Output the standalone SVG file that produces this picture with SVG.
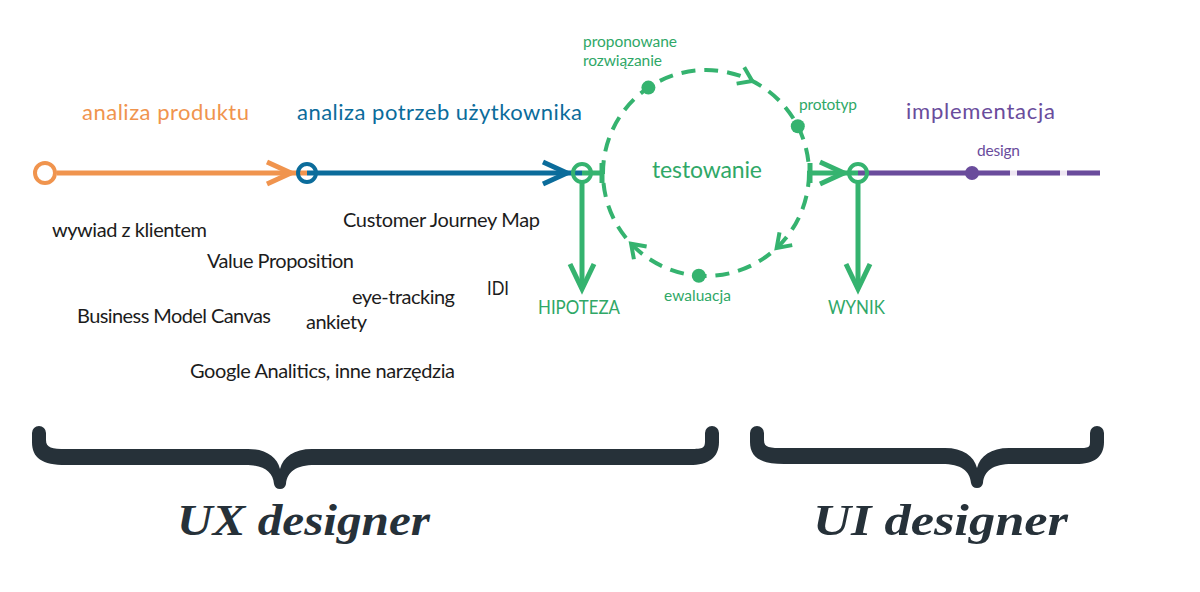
<svg xmlns="http://www.w3.org/2000/svg" width="1200" height="592" viewBox="0 0 1200 592">
<defs>
<style>
.t{font-family:Lato,"Open Sans","Liberation Sans",sans-serif}
.blk{font-size:20px;fill:#1c1c1c}
.head{font-size:22px}
.sm{font-size:15.5px}
.big{font-size:20px}
.or{fill:#F0944E}.bl{fill:#0B6C9B}.gr{fill:#2FA867}.pu{fill:#6A4C9C}
.hand{font-family:"Liberation Serif",serif;font-style:italic;font-weight:bold;font-size:44px;fill:#263139}
.ln{fill:none;stroke-width:5}
.arw{fill:none;stroke-width:5;stroke-linejoin:miter;stroke-linecap:butt}
.node{fill:none;stroke-width:4}
.brace{fill:#263139}
</style>
<path id="chev" d="M-10 -9 L3 0 L-10 9" fill="none" stroke="#35B36F" stroke-width="4"/>
</defs>
<rect width="1200" height="592" fill="#ffffff"/>

<g id="connectors">
  <path class="ln" stroke="#F0944E" d="M57 173 H307"/>
  <path class="arw" stroke="#F0944E" d="M267 162 L291 173 L267 184"/>
  <path class="ln" stroke="#0B6C9B" d="M307 173 H582"/>
  <path class="arw" stroke="#0B6C9B" d="M543 162 L567 173 L543 184"/>
  <path class="ln" stroke="#35B36F" d="M582 173 H602 M602 163 V183"/>
  <path class="ln" stroke="#35B36F" d="M582 182 V288"/>
  <path class="arw" stroke="#35B36F" d="M570 264 L582 289 L594 264"/>
  <path class="ln" stroke="#35B36F" d="M810 163 V183 M810 173 H858"/>
  <path class="arw" stroke="#35B36F" d="M820 162 L844 173 L820 184"/>
  <path class="ln" stroke="#35B36F" d="M858 182 V288"/>
  <path class="arw" stroke="#35B36F" d="M846 264 L858 289 L870 264"/>
  <path class="ln" stroke="#EEE6F2" d="M858 173 H1100"/>
  <path class="ln" stroke="#6A4C9C" d="M858 173 H1010 M1017 173 H1060 M1067 173 H1100"/>
</g>

<g id="node-analiza-produktu">
  <circle class="node" cx="45" cy="173" r="10" stroke="#F0944E"/>
  <text class="t head or" x="82" y="120" textLength="167">analiza produktu</text>
</g>
<g id="node-analiza-potrzeb">
  <circle class="node" cx="307" cy="173" r="9" stroke="#0B6C9B"/>
  <text class="t head bl" x="297" y="120" textLength="285">analiza potrzeb użytkownika</text>
</g>
<g id="node-hipoteza">
  <circle class="node" cx="582" cy="173" r="9" stroke="#35B36F"/>
  <text class="t big gr" x="538" y="314" textLength="82" lengthAdjust="spacingAndGlyphs">HIPOTEZA</text>
</g>
<g id="node-testowanie">
  <circle cx="706" cy="173" r="103" fill="none" stroke="#35B36F" stroke-width="4" stroke-dasharray="14 9"/>
  <use href="#chev" transform="translate(749.5 79.7) rotate(25)"/>
  <use href="#chev" transform="translate(778.8 245.8) rotate(135)"/>
  <use href="#chev" transform="translate(633.2 245.8) rotate(225)"/>
  <circle cx="648.4" cy="87.6" r="7" fill="#35B36F"/>
  <circle cx="797.8" cy="126.2" r="7" fill="#35B36F"/>
  <circle cx="698.8" cy="275.8" r="7" fill="#35B36F"/>
  <text class="t gr" x="652" y="178" font-size="23" textLength="110">testowanie</text>
  <text class="t sm gr" x="583" y="47" textLength="94">proponowane</text>
  <text class="t sm gr" x="583" y="66" textLength="79">rozwiązanie</text>
  <text class="t sm gr" x="799" y="110" textLength="58">prototyp</text>
  <text class="t sm gr" x="664" y="301" textLength="67">ewaluacja</text>
</g>
<g id="node-wynik">
  <circle class="node" cx="858" cy="173" r="9" stroke="#35B36F"/>
  <text class="t big gr" x="828" y="314" textLength="57" lengthAdjust="spacingAndGlyphs">WYNIK</text>
</g>
<g id="node-implementacja">
  <circle cx="972" cy="173" r="7" fill="#6A4C9C"/>
  <text class="t head pu" x="906" y="119" textLength="149">implementacja</text>
  <text class="t sm pu" x="977" y="156" textLength="43">design</text>
</g>

<g id="tools">
  <text class="t blk" x="52" y="237" textLength="155">wywiad z klientem</text>
  <text class="t blk" x="343" y="227" textLength="197">Customer Journey Map</text>
  <text class="t blk" x="207" y="268" textLength="147">Value Proposition</text>
  <text class="t blk" x="487" y="295" textLength="22" lengthAdjust="spacingAndGlyphs">IDI</text>
  <text class="t blk" x="352" y="304" textLength="103">eye-tracking</text>
  <text class="t blk" x="77" y="323" textLength="194">Business Model Canvas</text>
  <text class="t blk" x="306" y="329" textLength="61">ankiety</text>
  <text class="t blk" x="190" y="378" textLength="265">Google Analitics, inne narzędzia</text>
</g>

<g id="ux-designer">
  <path class="brace" d="M32 433 A7 7 0 0 1 46 433 L46 440 C46 448 52 449 66 449 L248 449 C266 449 277 457 280 469 C283 457 294 449 312 449 L690 449 C704 449 705 448 705 440 L705 433 A7 7 0 0 1 719 433 L719 442 C719 458 708 465 690 465 L315 465 C296 465 287 472 286 484 Q285 489 280 489 Q275 489 274 484 C273 472 264 465 245 465 L66 465 C42 465 32 458 32 442 Z"/>
  <text class="hand" x="177" y="535" textLength="253" lengthAdjust="spacingAndGlyphs">UX designer</text>
</g>
<g id="ui-designer">
  <path class="brace" d="M750 433 A7 7 0 0 1 764 433 L764 440 C764 448 770 448 784 448 L945 448 C963 448 974 456 977 468 C980 456 991 448 1009 448 L1076 448 C1090 448 1090 448 1090 440 L1090 433 A7 7 0 0 1 1104 433 L1104 442 C1104 457 1094 464 1076 464 L1012 464 C993 464 984 471 983 483 Q982 488 977 488 Q972 488 971 483 C970 471 961 464 942 464 L784 464 C760 464 750 457 750 442 Z"/>
  <text class="hand" x="813" y="535" textLength="255" lengthAdjust="spacingAndGlyphs">UI designer</text>
</g>
</svg>
